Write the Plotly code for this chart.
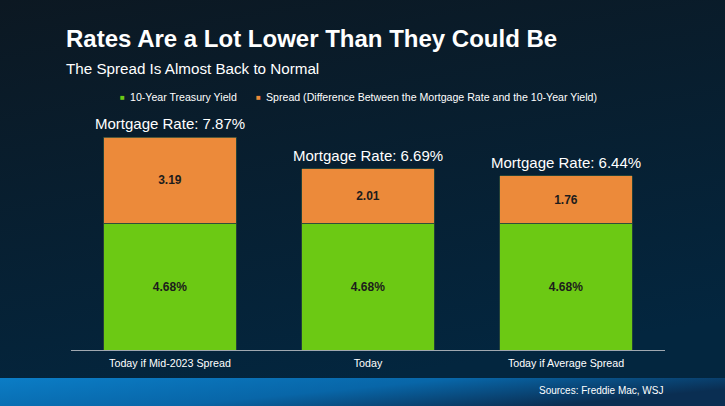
import base64
import plotly.graph_objects as go

categories = ["Today if Mid-2023 Spread", "Today", "Today if Average Spread"]
treasury = [4.68, 4.68, 4.68]
spread = [3.19, 2.01, 1.76]
mortgage = [7.87, 6.69, 6.44]

GREEN = "#6cc914"
ORANGE = "#ec8a3a"
SANS = "Liberation Sans, Arial, sans-serif"

# plot area in pixels: x 71..665, y 100..350
L, T, W, H = 71, 100, 594, 250


def px(x):
    return (x - L) / W


def py(y):
    return (T + H - y) / H


# background: dark navy gradient with blue band along the bottom
svg = """<svg xmlns='http://www.w3.org/2000/svg' width='725' height='406'>
<defs>
<linearGradient id='bg' x1='0' y1='0' x2='0.3' y2='1'>
<stop offset='0' stop-color='#0c1822'/><stop offset='1' stop-color='#03263f'/>
</linearGradient>
<linearGradient id='band' x1='0' y1='0' x2='1' y2='0.4'>
<stop offset='0' stop-color='#0b7dc6'/><stop offset='0.55' stop-color='#0866a8'/>
<stop offset='1' stop-color='#0a2e52'/>
</linearGradient>
</defs>
<rect width='725' height='406' fill='url(#bg)'/>
<rect y='378' width='725' height='28' fill='url(#band)'/>
</svg>"""
bg_uri = "data:image/svg+xml;base64," + base64.b64encode(svg.encode()).decode()

fig = go.Figure()
fig.add_trace(go.Bar(
    x=categories, y=treasury, name="10-Year Treasury Yield",
    marker=dict(color=GREEN, line=dict(color="#2c4a3a", width=0.8)),
    text=[f"{v:.2f}%" for v in treasury], textposition="inside",
    insidetextanchor="middle",
    textfont=dict(family=SANS, size=12, color="#1c1c1c", weight="bold"),
))
fig.add_trace(go.Bar(
    x=categories, y=spread,
    name="Spread (Difference Between the Mortgage Rate and the 10-Year Yield)",
    marker=dict(color=ORANGE, line=dict(color="#2c4a3a", width=0.8)),
    text=[f"{v:.2f}" for v in spread], textposition="inside",
    insidetextanchor="middle",
    textfont=dict(family=SANS, size=12, color="#1c1c1c", weight="bold"),
))

for c, m in zip(categories, mortgage):
    fig.add_annotation(x=c, y=m, text=f"Mortgage Rate: {m:.2f}%", showarrow=False,
                       yanchor="bottom", yshift=3,
                       font=dict(family=SANS, size=15, color="white"))

texts = [
    (64, 38, "<b>Rates Are a Lot Lower Than They Could Be</b>", 24, "left"),
    (64, 68, "The Spread Is Almost Back to Normal", 15.2, "left"),
    (665, 390, "Sources: Freddie Mac, WSJ", 10, "right"),
]
for x, y, t, s, anchor in texts:
    fig.add_annotation(xref="paper", yref="paper", x=px(x), y=py(y), xanchor=anchor,
                       yanchor="middle", showarrow=False, text=t,
                       font=dict(family=SANS, size=s, color="white"))

# legend drawn as annotations to keep it compact
for x, name, color in [(122, fig.data[0].name, GREEN), (258, fig.data[1].name, ORANGE)]:
    fig.add_annotation(xref="paper", yref="paper", x=px(x), y=py(97), xanchor="center",
                       yanchor="middle", showarrow=False, text="■",
                       font=dict(family=SANS, size=8, color=color))
    fig.add_annotation(xref="paper", yref="paper", x=px(x + 6), y=py(97), xanchor="left",
                       yanchor="middle", showarrow=False, text=name,
                       font=dict(family=SANS, size=10.6, color="white"))

fig.update_layout(
    width=725, height=406,
    margin=dict(l=L, r=725 - L - W, t=T, b=406 - T - H),
    barmode="stack", bargap=0.333,
    paper_bgcolor="#06233a", plot_bgcolor="rgba(0,0,0,0)",
    images=[dict(source=bg_uri, xref="paper", yref="paper", x=px(0), y=py(0),
                 sizex=725 / W, sizey=406 / H, sizing="stretch",
                 xanchor="left", yanchor="top", layer="below")],
    showlegend=False,
    xaxis=dict(showline=True, linecolor="#a0a8b0", linewidth=1, ticks="outside",
               ticklen=3, tickcolor="rgba(0,0,0,0)",
               tickfont=dict(family=SANS, size=10.7, color="white"),
               showgrid=False, range=[-0.5, 2.5]),
    yaxis=dict(visible=False, range=[0, 9.24]),
)

fig.write_html("out.html", config={"displayModeBar": False},
               post_script="document.body.style.margin='0';")
